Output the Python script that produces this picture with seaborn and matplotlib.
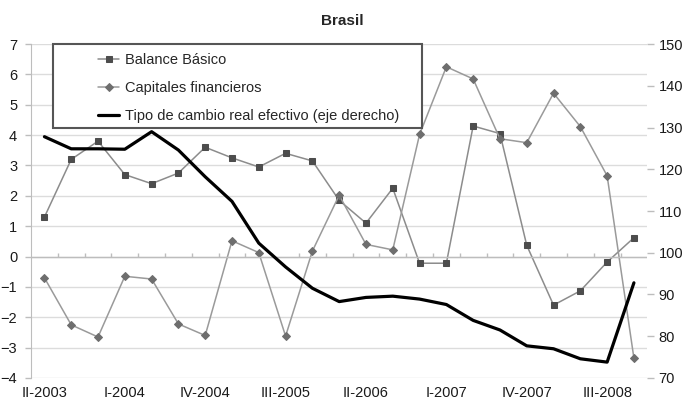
import pandas as pd
import numpy as np
import matplotlib.pyplot as plt
import seaborn as sns
from matplotlib.patches import Rectangle

# Step 1: data
trimestres = ['II-2003', 'III-2003', 'IV-2003', 'I-2004', 'II-2004', 'III-2004',
              'IV-2004', 'I-2005', 'II-2005', 'III-2005', 'IV-2005', 'I-2006',
              'II-2006', 'III-2006', 'IV-2006', 'I-2007', 'II-2007', 'III-2007',
              'IV-2007', 'I-2008', 'II-2008', 'III-2008', 'IV-2008']

balance_basico = [1.3, 3.2, 3.8, 2.7, 2.4, 2.75, 3.6, 3.25, 2.95, 3.4, 3.15, 1.85,
                  1.1, 2.25, -0.22, -0.22, 4.3, 4.05, 0.37, -1.6, -1.13, -0.18, 0.62]

capitales_fin = [-0.7, -2.25, -2.65, -0.65, -0.74, -2.22, -2.6, 0.52, 0.13, -2.62,
                 0.18, 2.02, 0.4, 0.22, 4.02, 6.25, 5.85, 3.88, 3.75, 5.38, 4.28,
                 2.66, -3.35]

tcre = [127.8, 124.9, 124.9, 124.8, 129.0, 124.6, 118.2, 112.3, 102.3, 96.6,
        91.5, 88.3, 89.3, 89.6, 88.9, 87.6, 83.8, 81.5, 77.7, 77.0, 74.6,
        73.8, 92.8]

df = pd.DataFrame({
    'pos': np.arange(len(trimestres)),
    'Trimestre': trimestres,
    'Balance': balance_basico,
    'Capitales': capitales_fin,
    'TCRE': tcre,
})

# Step 2: style
sns.set_style('white')
plt.rcParams['font.family'] = ['Liberation Sans', 'DejaVu Sans']
plt.rcParams['font.size'] = 10

fig = plt.figure(figsize=(6.85, 4.05), dpi=100)
ax = fig.add_axes([0.0453, 0.0667, 0.8997, 0.8246])
ax2 = ax.twinx()

# Step 3: lines
sns.lineplot(data=df, x='pos', y='Balance', ax=ax, color='#8c8c8c', lw=1.1,
             marker='s', markersize=5, markerfacecolor='#4d4d4d',
             markeredgecolor='#4d4d4d', label='Balance Básico', legend=False)
sns.lineplot(data=df, x='pos', y='Capitales', ax=ax, color='#9a9a9a', lw=1.1,
             marker='D', markersize=4.5, markerfacecolor='#6e6e6e',
             markeredgecolor='#6e6e6e', label='Capitales financieros', legend=False)
sns.lineplot(data=df, x='pos', y='TCRE', ax=ax2, color='black', lw=2.3,
             label='Tipo de cambio real efectivo (eje derecho)', legend=False)

# Step 4: axes
ax.set_xlim(-0.5, len(trimestres) - 0.5)
ax.set_ylim(-4, 7)
ax.set_yticks(range(-4, 8))
ax2.set_ylim(70, 150)
ax2.set_yticks(range(70, 151, 10))

ax.set_xticks(df['pos'][::3])
ax.set_xticklabels(df['Trimestre'][::3])
ax.set_xlabel('')
ax.set_ylabel('')
ax2.set_ylabel('')

ax.grid(axis='y', color='#dcdcdc', lw=1)
ax.set_axisbelow(True)

for s in ['top', 'right', 'bottom']:
    ax.spines[s].set_visible(False)
for s in ['top', 'right', 'bottom', 'left']:
    ax2.spines[s].set_visible(False)
ax.spines['left'].set_color('#bdbdbd')

ax.tick_params(axis='x', length=0, pad=6, labelsize=10.5, colors='#1a1a1a')
ax.tick_params(axis='y', length=4, width=1, color='#bdbdbd', pad=6,
               labelsize=10.5, labelcolor='#1a1a1a')
ax2.tick_params(axis='y', length=5, width=1, color='#bdbdbd', pad=3,
                labelsize=10.5, labelcolor='#1a1a1a')

# eje horizontal en cero con marcas entre trimestres
ax.axhline(0, color='#bdbdbd', lw=1)
ax.vlines(np.arange(0.5, len(trimestres) - 0.5), 0, 0.12, color='#bdbdbd', lw=1)

# Step 5: legend in a box
handles = ax.get_lines()[:2] + ax2.get_lines()[:1]
labels = ['Balance Básico', 'Capitales financieros',
          'Tipo de cambio real efectivo (eje derecho)']
leg = ax.legend(handles, labels, loc='upper left', bbox_to_anchor=(0.108, 0.973),
                frameon=False, borderpad=0, borderaxespad=0, handlelength=1.5,
                handletextpad=0.35, labelspacing=0.95, fontsize=10.5)
ax.add_patch(Rectangle((0.0357, 0.749), 0.598, 0.252, transform=ax.transAxes,
                       fill=True, facecolor='white', edgecolor='#555555',
                       lw=1.5, zorder=4, clip_on=False))
leg.set_zorder(5)

fig.suptitle('Brasil', fontweight='bold', fontsize=11, y=0.965)

plt.savefig('out.png', dpi=100)
